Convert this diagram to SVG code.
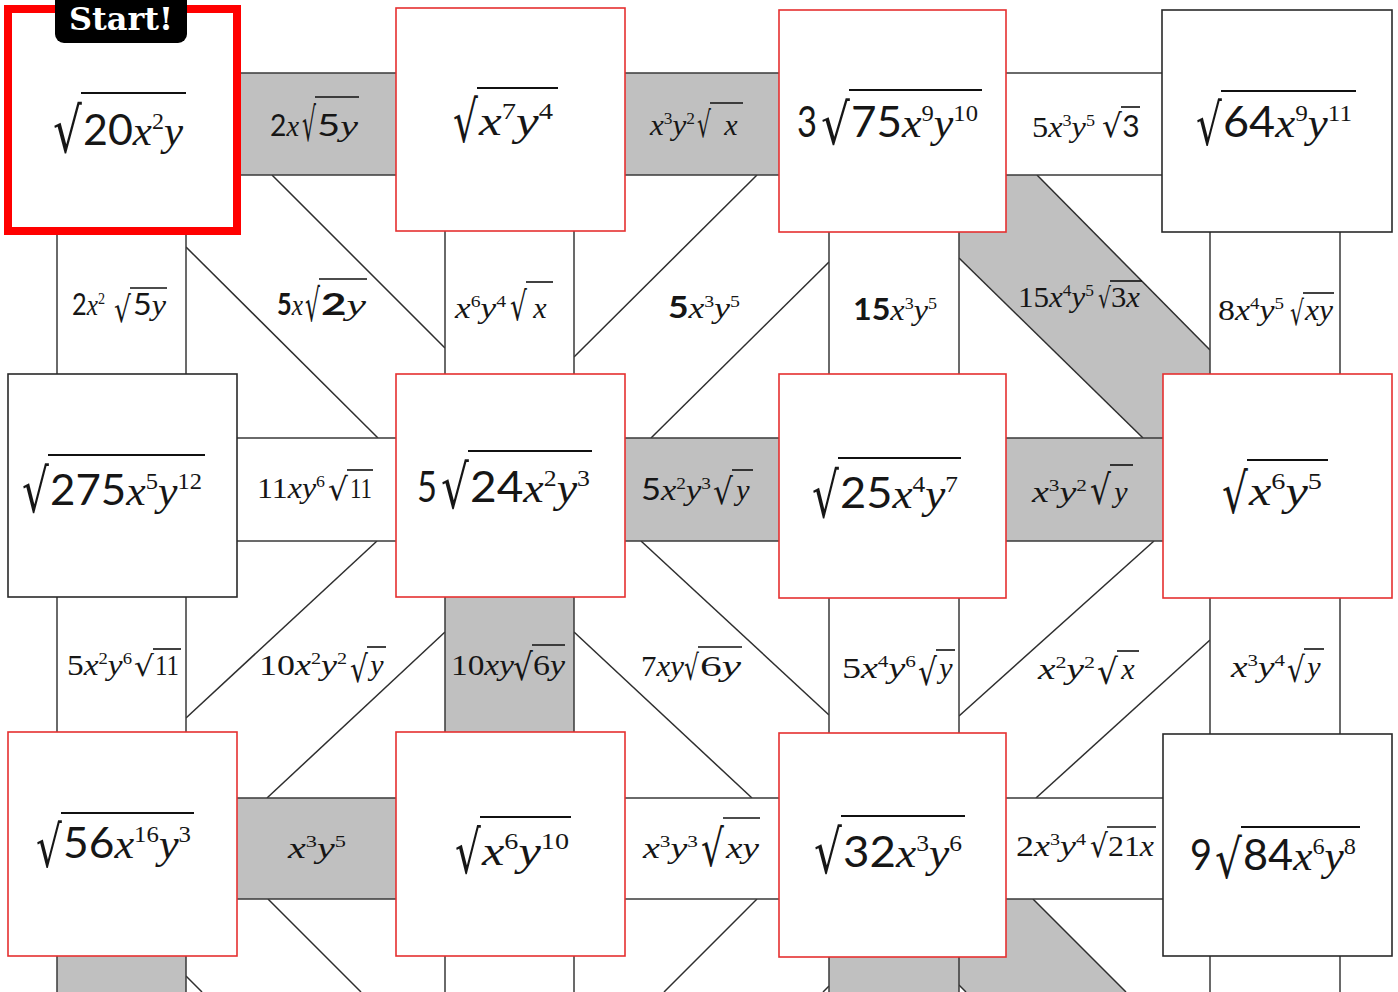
<svg xmlns="http://www.w3.org/2000/svg" width="1398" height="992" viewBox="0 0 1398 992">
<style>
.sq{fill:#fff;stroke-width:1.6}
.red{stroke:#e53030}
.blk{stroke:#2a2a2a}
.bar{stroke:#3a3a3a;stroke-width:1.5}
.w{fill:#fff}
.g{fill:#c0c0c0}
.dl{stroke:#2e2e2e;stroke-width:1.5;fill:none}
.vn{stroke:#111;stroke-width:2.2}
.vb{stroke:#111;stroke-width:1.6}
text{fill:#161616;font-family:"Liberation Serif",serif}
.N{font-size:42px}
.B{font-size:30px}
.d{font-family:Lato,"Open Sans",sans-serif}
.b{font-weight:700}
.t{font-family:"Liberation Serif",serif}
.v{font-family:"Liberation Serif",serif;font-style:italic}
.p{font-family:"Liberation Serif",serif;font-size:0.56em}
.rad{font-family:"DejaVu Sans",sans-serif;font-size:100px}
</style>
<rect width="1398" height="992" fill="#fff"/>
<g id="connectors">
 <g id="bands">
  <polygon class="g" points="959,175 1037,175 1210,350 1210,438 1143,438 959,258"/>
  <polygon class="g" points="959,899 1033,899 1126,992 966,992 959,985"/>
  <line class="dl" x1="272" y1="175" x2="445" y2="348"/>
  <line class="dl" x1="186" y1="247" x2="378" y2="438"/>
  <line class="dl" x1="757" y1="175" x2="574" y2="357"/>
  <line class="dl" x1="829" y1="262" x2="651" y2="438"/>
  <line class="dl" x1="1037" y1="175" x2="1210" y2="350"/>
  <line class="dl" x1="959" y1="258" x2="1143" y2="438"/>
  <line class="dl" x1="377" y1="541" x2="186" y2="718"/>
  <line class="dl" x1="445" y1="632" x2="267" y2="798"/>
  <line class="dl" x1="641" y1="541" x2="829" y2="715"/>
  <line class="dl" x1="574" y1="632" x2="752" y2="798"/>
  <line class="dl" x1="1154" y1="541" x2="959" y2="716"/>
  <line class="dl" x1="1210" y1="640" x2="1036" y2="798"/>
  <line class="dl" x1="268" y1="899" x2="361" y2="992"/>
  <line class="dl" x1="186" y1="976" x2="202" y2="992"/>
  <line class="dl" x1="757" y1="899" x2="664" y2="992"/>
  <line class="dl" x1="829" y1="986" x2="823" y2="992"/>
  <line class="dl" x1="1033" y1="899" x2="1126" y2="992"/>
  <line class="dl" x1="959" y1="985" x2="966" y2="992"/>
 </g>
 <g id="bars">
  <rect class="bar g" x="232" y="73" width="168" height="102"/>
  <rect class="bar g" x="620" y="73" width="164" height="102"/>
  <rect class="bar w" x="1000" y="73" width="168" height="102"/>
  <rect class="bar w" x="232" y="438" width="168" height="103"/>
  <rect class="bar g" x="620" y="438" width="164" height="103"/>
  <rect class="bar g" x="1000" y="438" width="168" height="103"/>
  <rect class="bar g" x="232" y="798" width="168" height="101"/>
  <rect class="bar w" x="620" y="798" width="164" height="101"/>
  <rect class="bar w" x="1000" y="798" width="168" height="101"/>
  <rect class="bar w" x="57" y="226" width="129" height="152"/>
  <rect class="bar w" x="445" y="226" width="129" height="152"/>
  <rect class="bar w" x="829" y="226" width="130" height="152"/>
  <rect class="bar w" x="1210" y="226" width="130" height="152"/>
  <rect class="bar w" x="57" y="592" width="129" height="145"/>
  <rect class="bar g" x="445" y="592" width="129" height="145"/>
  <rect class="bar w" x="829" y="592" width="130" height="145"/>
  <rect class="bar w" x="1210" y="592" width="130" height="145"/>
  <rect class="bar g" x="57" y="950" width="129" height="60"/>
  <rect class="bar w" x="445" y="950" width="129" height="60"/>
  <rect class="bar g" x="829" y="950" width="130" height="60"/>
  <rect class="bar w" x="1210" y="950" width="130" height="60"/>
 </g>
 <g id="connector-labels">
  <g id="h00"><text class="B" x="270" y="136" textLength="29" lengthAdjust="spacingAndGlyphs"><tspan class="d">2</tspan><tspan class="v">x</tspan></text>
   <text class="rad" transform="translate(302,141.3) scale(0.219,0.466)">√</text><line class="vb" x1="315" y1="97" x2="359" y2="97"/>
   <text class="B" x="317" y="136" textLength="41" lengthAdjust="spacingAndGlyphs"><tspan class="d">5</tspan><tspan class="v">y</tspan></text></g>
  <g id="h01"><text class="B" x="650" y="135" textLength="45" lengthAdjust="spacingAndGlyphs"><tspan class="v">x</tspan><tspan class="p" dy="-11">3</tspan><tspan class="v" dy="11">y</tspan><tspan class="p" dy="-11">2</tspan></text>
   <text class="rad" transform="translate(697,137.1) scale(0.219,0.359)">√</text><line class="vb" x1="710" y1="103" x2="743" y2="103"/>
   <text class="B v" x="731" y="135" text-anchor="middle">x</text></g>
  <g id="h02"><text class="B" x="1032" y="137" textLength="63" lengthAdjust="spacingAndGlyphs"><tspan class="t">5</tspan><tspan class="v">x</tspan><tspan class="p" dy="-11">3</tspan><tspan class="v" dy="11">y</tspan><tspan class="p" dy="-11">5</tspan></text>
   <text class="rad" transform="translate(1102,137.4) scale(0.3125,0.32)">√</text><line class="vb" x1="1121" y1="107" x2="1140" y2="107"/>
   <text class="B d" x="1131" y="137" text-anchor="middle">3</text></g>
  <g id="v00"><text class="B" x="72" y="315" textLength="33" lengthAdjust="spacingAndGlyphs"><tspan class="d">2</tspan><tspan class="v">x</tspan><tspan class="p" dy="-11">2</tspan></text>
   <text class="rad" transform="translate(114,322.1) scale(0.266,0.359)">√</text><line class="vb" x1="130" y1="288" x2="167" y2="288"/>
   <text class="B" x="133" y="315" textLength="33" lengthAdjust="spacingAndGlyphs"><tspan class="d">5</tspan><tspan class="v">y</tspan></text></g>
  <g id="dA"><text class="B" x="277" y="315" textLength="26" lengthAdjust="spacingAndGlyphs"><tspan class="d b">5</tspan><tspan class="v">x</tspan></text>
   <text class="rad" transform="translate(305,321.4) scale(0.234,0.447)">√</text><line class="vb" x1="319" y1="279" x2="367" y2="279"/>
   <text class="B" x="321" y="315" textLength="45" lengthAdjust="spacingAndGlyphs"><tspan class="d b">2</tspan><tspan class="v">y</tspan></text></g>
  <g id="v01"><text class="B" x="455" y="318" textLength="51" lengthAdjust="spacingAndGlyphs"><tspan class="v">x</tspan><tspan class="p" dy="-11">6</tspan><tspan class="v" dy="11">y</tspan><tspan class="p" dy="-11">4</tspan></text>
   <text class="rad" transform="translate(510,319.8) scale(0.266,0.398)">√</text><line class="vb" x1="526" y1="282" x2="553" y2="282"/>
   <text class="B v" x="540" y="318" text-anchor="middle">x</text></g>
  <g id="dB"><text class="B" x="668" y="318" textLength="72" lengthAdjust="spacingAndGlyphs"><tspan class="d b">5</tspan><tspan class="v">x</tspan><tspan class="p" dy="-11">3</tspan><tspan class="v" dy="11">y</tspan><tspan class="p" dy="-11">5</tspan></text></g>
  <g id="v02"><text class="B" x="853" y="320" textLength="84" lengthAdjust="spacingAndGlyphs"><tspan class="d b">15</tspan><tspan class="v">x</tspan><tspan class="p" dy="-11">3</tspan><tspan class="v" dy="11">y</tspan><tspan class="p" dy="-11">5</tspan></text></g>
  <g id="dC"><text class="B" x="1018" y="307" textLength="76" lengthAdjust="spacingAndGlyphs"><tspan class="t">15</tspan><tspan class="v">x</tspan><tspan class="p" dy="-11">4</tspan><tspan class="v" dy="11">y</tspan><tspan class="p" dy="-11">5</tspan></text>
   <text class="rad" transform="translate(1098,307.7) scale(0.203,0.282)">√</text><line class="vb" x1="1110" y1="281" x2="1142" y2="281"/>
   <text class="B" x="1111" y="307" textLength="29" lengthAdjust="spacingAndGlyphs"><tspan class="t">3</tspan><tspan class="v">x</tspan></text></g>
  <g id="v03"><text class="B" x="1218" y="320" textLength="66" lengthAdjust="spacingAndGlyphs"><tspan class="t">8</tspan><tspan class="v">x</tspan><tspan class="p" dy="-11">4</tspan><tspan class="v" dy="11">y</tspan><tspan class="p" dy="-11">5</tspan></text>
   <text class="rad" transform="translate(1290,325.3) scale(0.219,0.34)">√</text><line class="vb" x1="1303" y1="293" x2="1334" y2="293"/>
   <text class="B v" x="1305" y="320" textLength="28" lengthAdjust="spacingAndGlyphs">xy</text></g>
  <g id="h10"><text class="B" x="257" y="498" textLength="68" lengthAdjust="spacingAndGlyphs"><tspan class="t">11</tspan><tspan class="v">xy</tspan><tspan class="p" dy="-11">6</tspan></text>
   <text class="rad" transform="translate(328,499.5) scale(0.3125,0.311)">√</text><line class="vb" x1="347" y1="470" x2="373" y2="470"/>
   <text class="B t" x="350" y="498" textLength="22" lengthAdjust="spacingAndGlyphs">11</text></g>
  <g id="h11"><text class="B" x="641" y="500" textLength="70" lengthAdjust="spacingAndGlyphs"><tspan class="d">5</tspan><tspan class="v">x</tspan><tspan class="p" dy="-11">2</tspan><tspan class="v" dy="11">y</tspan><tspan class="p" dy="-11">3</tspan></text>
   <text class="rad" transform="translate(713,504.1) scale(0.3125,0.359)">√</text><line class="vb" x1="732" y1="470" x2="753" y2="470"/>
   <text class="B v" x="743" y="500" text-anchor="middle">y</text></g>
  <g id="h12"><text class="B" x="1032" y="502" textLength="55" lengthAdjust="spacingAndGlyphs"><tspan class="v">x</tspan><tspan class="p" dy="-11">3</tspan><tspan class="v" dy="11">y</tspan><tspan class="p" dy="-11">2</tspan></text>
   <text class="rad" transform="translate(1090,503.7) scale(0.328,0.408)">√</text><line class="vb" x1="1110" y1="465" x2="1133" y2="465"/>
   <text class="B v" x="1121" y="502" text-anchor="middle">y</text></g>
  <g id="v10"><text class="B" x="67" y="675" textLength="65" lengthAdjust="spacingAndGlyphs"><tspan class="t">5</tspan><tspan class="v">x</tspan><tspan class="p" dy="-11">2</tspan><tspan class="v" dy="11">y</tspan><tspan class="p" dy="-11">6</tspan></text>
   <text class="rad" transform="translate(134,675.7) scale(0.3125,0.282)">√</text><line class="vb" x1="153" y1="649" x2="181" y2="649"/>
   <text class="B t" x="155" y="675" textLength="24" lengthAdjust="spacingAndGlyphs">11</text></g>
  <g id="dD"><text class="B" x="259" y="675" textLength="88" lengthAdjust="spacingAndGlyphs"><tspan class="t">10</tspan><tspan class="v">x</tspan><tspan class="p" dy="-11">2</tspan><tspan class="v" dy="11">y</tspan><tspan class="p" dy="-11">2</tspan></text>
   <text class="rad" transform="translate(350,682) scale(0.281,0.369)">√</text><line class="vb" x1="367" y1="647" x2="386" y2="647"/>
   <text class="B v" x="377" y="675" text-anchor="middle">y</text></g>
  <g id="v11"><text class="B" x="451" y="675" textLength="63" lengthAdjust="spacingAndGlyphs"><tspan class="t">10</tspan><tspan class="v">xy</tspan></text>
   <text class="rad" transform="translate(513,680) scale(0.3125,0.369)">√</text><line class="vb" x1="532" y1="645" x2="565" y2="645"/>
   <text class="B" x="533" y="675" textLength="32" lengthAdjust="spacingAndGlyphs"><tspan class="t">6</tspan><tspan class="v">y</tspan></text></g>
  <g id="dE"><text class="B" x="641" y="676" textLength="43" lengthAdjust="spacingAndGlyphs"><tspan class="t">7</tspan><tspan class="v">xy</tspan></text>
   <text class="rad" transform="translate(684,680.2) scale(0.234,0.35)">√</text><line class="vb" x1="698" y1="647" x2="742" y2="647"/>
   <text class="B" x="700" y="676" textLength="41" lengthAdjust="spacingAndGlyphs"><tspan class="t">6</tspan><tspan class="v">y</tspan></text></g>
  <g id="v12"><text class="B" x="842" y="678" textLength="74" lengthAdjust="spacingAndGlyphs"><tspan class="t">5</tspan><tspan class="v">x</tspan><tspan class="p" dy="-11">4</tspan><tspan class="v" dy="11">y</tspan><tspan class="p" dy="-11">6</tspan></text>
   <text class="rad" transform="translate(918,685) scale(0.297,0.369)">√</text><line class="vb" x1="936" y1="650" x2="955" y2="650"/>
   <text class="B v" x="946" y="678" text-anchor="middle">y</text></g>
  <g id="dF"><text class="B" x="1038" y="679" textLength="57" lengthAdjust="spacingAndGlyphs"><tspan class="v">x</tspan><tspan class="p" dy="-11">2</tspan><tspan class="v" dy="11">y</tspan><tspan class="p" dy="-11">2</tspan></text>
   <text class="rad" transform="translate(1097,684.2) scale(0.328,0.35)">√</text><line class="vb" x1="1117" y1="651" x2="1139" y2="651"/>
   <text class="B v" x="1128" y="679" text-anchor="middle">x</text></g>
  <g id="v13"><text class="B" x="1231" y="677" textLength="54" lengthAdjust="spacingAndGlyphs"><tspan class="v">x</tspan><tspan class="p" dy="-11">3</tspan><tspan class="v" dy="11">y</tspan><tspan class="p" dy="-11">4</tspan></text>
   <text class="rad" transform="translate(1287,682.2) scale(0.281,0.35)">√</text><line class="vb" x1="1304" y1="649" x2="1324" y2="649"/>
   <text class="B v" x="1314" y="677" text-anchor="middle">y</text></g>
  <g id="h20"><text class="B" x="288" y="858" textLength="58" lengthAdjust="spacingAndGlyphs"><tspan class="v">x</tspan><tspan class="p" dy="-11">3</tspan><tspan class="v" dy="11">y</tspan><tspan class="p" dy="-11">5</tspan></text></g>
  <g id="h21"><text class="B" x="643" y="858" textLength="55" lengthAdjust="spacingAndGlyphs"><tspan class="v">x</tspan><tspan class="p" dy="-11">3</tspan><tspan class="v" dy="11">y</tspan><tspan class="p" dy="-11">3</tspan></text>
   <text class="rad" transform="translate(701,866) scale(0.359,0.505)">√</text><line class="vb" x1="723" y1="818" x2="760" y2="818"/>
   <text class="B v" x="726" y="858" textLength="33" lengthAdjust="spacingAndGlyphs">xy</text></g>
  <g id="h22"><text class="B" x="1016" y="856" textLength="70" lengthAdjust="spacingAndGlyphs"><tspan class="t">2</tspan><tspan class="v">x</tspan><tspan class="p" dy="-11">3</tspan><tspan class="v" dy="11">y</tspan><tspan class="p" dy="-11">4</tspan></text>
   <text class="rad" transform="translate(1090,857.4) scale(0.281,0.32)">√</text><line class="vb" x1="1107" y1="827" x2="1156" y2="827"/>
   <text class="B" x="1108" y="856" textLength="46" lengthAdjust="spacingAndGlyphs"><tspan class="t">21</tspan><tspan class="v">x</tspan></text></g>
 </g>
</g>
<g id="n-r0c0">
 <rect x="8" y="9" width="229" height="222" fill="#fff" stroke="#ff0000" stroke-width="8"/>
 <text class="rad" transform="translate(53,152) scale(0.453,0.621)">√</text><line class="vn" x1="81" y1="93" x2="186" y2="93"/>
 <text class="N" x="83" y="145" textLength="100" lengthAdjust="spacingAndGlyphs"><tspan class="d">20</tspan><tspan class="v">x</tspan><tspan class="p" dy="-16">2</tspan><tspan class="v" dy="16">y</tspan></text>
</g>
<g id="n-r0c1">
 <rect class="sq red" x="396" y="8" width="229" height="223"/>
 <text class="rad" transform="translate(453,142.4) scale(0.391,0.573)">√</text><line class="vn" x1="477" y1="88" x2="558" y2="88"/>
 <text class="N" x="479" y="135" textLength="74" lengthAdjust="spacingAndGlyphs"><tspan class="v">x</tspan><tspan class="p" dy="-16">7</tspan><tspan class="v" dy="16">y</tspan><tspan class="p" dy="-16">4</tspan></text>
</g>
<g id="n-r0c2">
 <rect class="sq red" x="779" y="10" width="227" height="222"/>
 <text class="N d" x="797" y="137" textLength="20" lengthAdjust="spacingAndGlyphs">3</text>
 <text class="rad" transform="translate(821,143.5) scale(0.453,0.563)">√</text><line class="vn" x1="849" y1="90" x2="982" y2="90"/>
 <text class="N" x="851" y="137" textLength="127" lengthAdjust="spacingAndGlyphs"><tspan class="d">75</tspan><tspan class="v">x</tspan><tspan class="p" dy="-16">9</tspan><tspan class="v" dy="16">y</tspan><tspan class="p" dy="-16">10</tspan></text>
</g>
<g id="n-r0c3">
 <rect class="sq blk" x="1162" y="10" width="230" height="222"/>
 <text class="rad" transform="translate(1196,145.4) scale(0.406,0.573)">√</text><line class="vn" x1="1221" y1="91" x2="1356" y2="91"/>
 <text class="N" x="1223" y="137" textLength="129" lengthAdjust="spacingAndGlyphs"><tspan class="d">64</tspan><tspan class="v">x</tspan><tspan class="p" dy="-16">9</tspan><tspan class="v" dy="16">y</tspan><tspan class="p" dy="-16">11</tspan></text>
</g>
<g id="n-r1c0">
 <rect class="sq blk" x="8" y="374" width="229" height="223"/>
 <text class="rad" transform="translate(22,512.2) scale(0.422,0.602)">√</text><line class="vn" x1="48" y1="455" x2="205" y2="455"/>
 <text class="N" x="50" y="505" textLength="152" lengthAdjust="spacingAndGlyphs"><tspan class="d">275</tspan><tspan class="v">x</tspan><tspan class="p" dy="-16">5</tspan><tspan class="v" dy="16">y</tspan><tspan class="p" dy="-16">12</tspan></text>
</g>
<g id="n-r1c1">
 <rect class="sq red" x="396" y="374" width="229" height="223"/>
 <text class="N d" x="417" y="502" textLength="20" lengthAdjust="spacingAndGlyphs">5</text>
 <text class="rad" transform="translate(441,508.2) scale(0.4375,0.602)">√</text><line class="vn" x1="468" y1="451" x2="592" y2="451"/>
 <text class="N" x="470" y="502" textLength="120" lengthAdjust="spacingAndGlyphs"><tspan class="d">24</tspan><tspan class="v">x</tspan><tspan class="p" dy="-16">2</tspan><tspan class="v" dy="16">y</tspan><tspan class="p" dy="-16">3</tspan></text>
</g>
<g id="n-r1c2">
 <rect class="sq red" x="779" y="374" width="227" height="224"/>
 <text class="rad" transform="translate(812,517) scale(0.422,0.621)">√</text><line class="vn" x1="838" y1="458" x2="961" y2="458"/>
 <text class="N" x="840" y="508" textLength="118" lengthAdjust="spacingAndGlyphs"><tspan class="d">25</tspan><tspan class="v">x</tspan><tspan class="p" dy="-16">4</tspan><tspan class="v" dy="16">y</tspan><tspan class="p" dy="-16">7</tspan></text>
</g>
<g id="n-r1c3">
 <rect class="sq red" x="1163" y="374" width="229" height="224"/>
 <text class="rad" transform="translate(1222,512.6) scale(0.406,0.553)">√</text><line class="vn" x1="1247" y1="460" x2="1328" y2="460"/>
 <text class="N" x="1249" y="505" textLength="73" lengthAdjust="spacingAndGlyphs"><tspan class="v">x</tspan><tspan class="p" dy="-16">6</tspan><tspan class="v" dy="16">y</tspan><tspan class="p" dy="-16">5</tspan></text>
</g>
<g id="n-r2c0">
 <rect class="sq red" x="8" y="732" width="229" height="224"/>
 <text class="rad" transform="translate(36,867.4) scale(0.406,0.573)">√</text><line class="vn" x1="61" y1="813" x2="194" y2="813"/>
 <text class="N" x="63" y="858" textLength="128" lengthAdjust="spacingAndGlyphs"><tspan class="d">56</tspan><tspan class="v">x</tspan><tspan class="p" dy="-16">16</tspan><tspan class="v" dy="16">y</tspan><tspan class="p" dy="-16">3</tspan></text>
</g>
<g id="n-r2c1">
 <rect class="sq red" x="396" y="732" width="229" height="224"/>
 <text class="rad" transform="translate(455,873.3) scale(0.406,0.592)">√</text><line class="vn" x1="480" y1="817" x2="571" y2="817"/>
 <text class="N" x="482" y="865" textLength="87" lengthAdjust="spacingAndGlyphs"><tspan class="v">x</tspan><tspan class="p" dy="-16">6</tspan><tspan class="v" dy="16">y</tspan><tspan class="p" dy="-16">10</tspan></text>
</g>
<g id="n-r2c2">
 <rect class="sq red" x="779" y="733" width="227" height="224"/>
 <text class="rad" transform="translate(814,873.2) scale(0.4375,0.602)">√</text><line class="vn" x1="841" y1="816" x2="965" y2="816"/>
 <text class="N" x="843" y="867" textLength="119" lengthAdjust="spacingAndGlyphs"><tspan class="d">32</tspan><tspan class="v">x</tspan><tspan class="p" dy="-16">3</tspan><tspan class="v" dy="16">y</tspan><tspan class="p" dy="-16">6</tspan></text>
</g>
<g id="n-r2c3">
 <rect class="sq blk" x="1163" y="734" width="229" height="222"/>
 <text class="N d" x="1190" y="870" textLength="22" lengthAdjust="spacingAndGlyphs">9</text>
 <text class="rad" transform="translate(1215,877.7) scale(0.422,0.534)">√</text><line class="vn" x1="1241" y1="827" x2="1360" y2="827"/>
 <text class="N" x="1243" y="870" textLength="113" lengthAdjust="spacingAndGlyphs"><tspan class="d">84</tspan><tspan class="v">x</tspan><tspan class="p" dy="-16">6</tspan><tspan class="v" dy="16">y</tspan><tspan class="p" dy="-16">8</tspan></text>
</g>
<g id="start-tag">
 <rect x="55" y="-10" width="132" height="53" rx="9" fill="#000"/>
 <text x="121" y="30" text-anchor="middle" style="fill:#fff;font-family:'DejaVu Serif',serif;font-weight:700;font-size:31px" textLength="104" lengthAdjust="spacingAndGlyphs">Start!</text>
</g>
</svg>
